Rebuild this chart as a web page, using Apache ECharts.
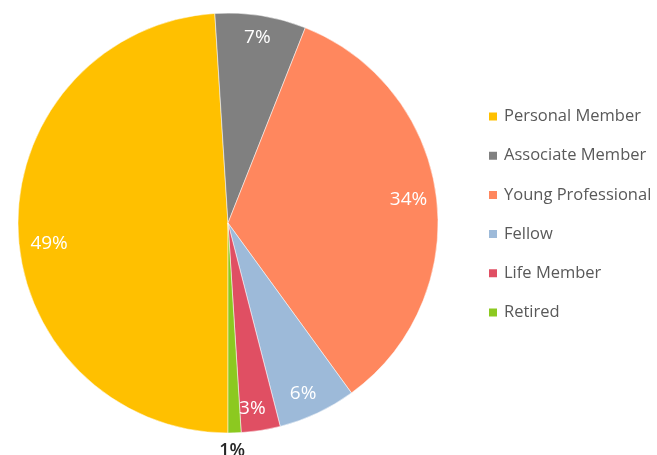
<!DOCTYPE html>
<html>
<head>
<meta charset="utf-8">
<script src="https://cdn.jsdelivr.net/npm/echarts@6/dist/echarts.min.js"></script>
<style>html,body{margin:0;padding:0;background:#fff}#c{width:657px;height:455px}</style>
</head>
<body>
<div id="c"></div>
<script>
var categories = ['Personal Member', 'Associate Member', 'Young Professional', 'Fellow', 'Life Member', 'Retired'];
var values = [49, 7, 34, 6, 3, 1];
var colors = ['#FFC000', '#808080', '#FF875E', '#9DBAD9', '#E04F63', '#8CC920'];

var font = '"Open Sans", "Noto Sans", sans-serif';
var center = [228, 223];
// small per-slice label nudges (style only)
var labelPad = [[0, 0, 0, 18], 0, [0, 12, 0, 0], [0, 10, 0, 0], [0, 10, 0, 0], [0, 6, 0, 0]];

function makeData(labelFor, transparent) {
  return categories.map(function (name, i) {
    var d = { name: name, value: values[i], itemStyle: { color: transparent ? 'rgba(0,0,0,0)' : colors[i] } };
    if (labelFor) {
      d.label = { show: labelFor(i), padding: labelPad[i] };
      if (i === 0) { d.label.formatter = '\n{c}%'; d.label.lineHeight = 30; }
    }
    return d;
  });
}

var chart = echarts.init(document.getElementById('c'), null, { renderer: 'canvas' });
chart.setOption({
  animation: false,
  legend: {
    orient: 'vertical',
    left: 487,
    top: 108,
    padding: 0,
    itemWidth: 10,
    itemHeight: 10,
    itemGap: 22.2,
    icon: 'rect',
    data: categories,
    selectedMode: false,
    textStyle: { color: '#595959', fontSize: 16.5, fontFamily: font, padding: [0, 0, 0, 1] }
  },
  series: [
    {
      type: 'pie',
      center: center,
      radius: [0, 210],
      startAngle: -90,
      clockwise: true,
      silent: true,
      label: { show: false },
      labelLine: { show: false },
      itemStyle: { borderColor: '#fff', borderWidth: 0.5 },
      data: makeData()
    },
    {
      type: 'pie',
      center: center,
      radius: [160, 210],
      startAngle: -90,
      clockwise: true,
      silent: true,
      label: {
        show: true, position: 'inside', formatter: '{c}%',
        color: '#fff', fontSize: 19, fontFamily: font
      },
      labelLine: { show: false },
      data: makeData(function (i) { return i !== 5; }, true)
    },
    {
      type: 'pie',
      center: center,
      radius: [210, 240],
      startAngle: -90,
      clockwise: true,
      silent: true,
      label: {
        show: true, position: 'inside', formatter: '{c}%',
        color: '#262626', fontSize: 18, fontWeight: 600, fontFamily: font
      },
      labelLine: { show: false },
      data: makeData(function (i) { return i === 5; }, true)
    }
  ]
});
</script>
</body>
</html>
